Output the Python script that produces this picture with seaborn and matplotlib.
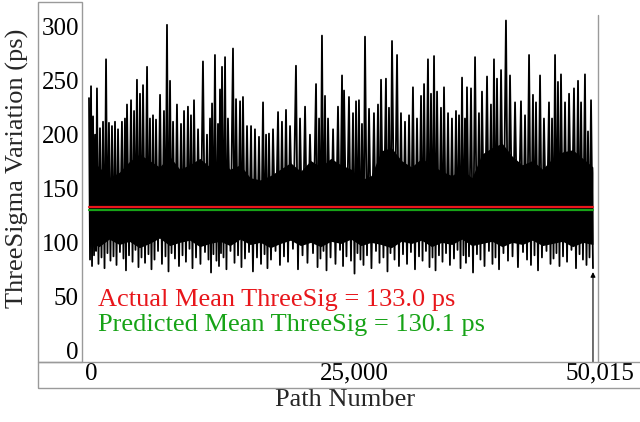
import matplotlib
matplotlib.use("Agg")
import matplotlib.pyplot as plt
import matplotlib.transforms as mtransforms
from matplotlib.patches import Rectangle
from matplotlib.lines import Line2D
import pandas as pd
import seaborn as sns

# ---------------------------------------------------------------------------
# Data (ThreeSigma per path, ps)
# spikes (local maxima) and dips (local minima) of the trace, alternating
# ---------------------------------------------------------------------------
peak_path = [
    0, 200, 400, 600, 790, 1090, 1390, 1690, 1980, 2280,
    2580, 2880, 3270, 3570, 3770, 4170, 4470, 4760, 5060, 5360,
    5760, 6050, 6350, 6650, 7050, 7440, 7740, 8040, 8340, 8730,
    9130, 9430, 9820, 10120, 10420, 10820, 11310, 11710, 12010, 12210,
    12500, 12800, 13000, 13200, 13500, 13790, 14290, 14590, 14990, 15280,
    15680, 16080, 16470, 16870, 17270, 17570, 17860, 18260, 18760, 19150,
    19550, 19950, 20540, 20940, 21440, 21930, 22530, 22830, 23120, 23420,
    23720, 24220, 24710, 25110, 25310, 25800, 26200, 26500, 26790, 27090,
    27390, 27790, 28280, 28680, 28980, 29470, 29770, 30070, 30570, 30960,
    31360, 31760, 32150, 32550, 32950, 33250, 33640, 33940, 34240, 34540,
    34930, 35230, 35630, 36020, 36420, 36720, 37020, 37310, 37510, 37910,
    38310, 38700, 39000, 39500, 39890, 40190, 40490, 40890, 41380, 41780,
    42280, 42870, 43270, 43670, 44060, 44360, 44760, 45150, 45650, 45950,
    46250, 46540, 46840, 47240, 47640, 48130, 48530, 48830, 49220, 49520,
    49820,
]
peak_ps = [
    234, 245, 217, 200, 243, 206, 212, 270, 211, 208,
    212, 205, 212, 215, 228, 232, 222, 251, 238, 246,
    263, 215, 218, 214, 237, 222, 302, 250, 212, 228,
    210, 222, 226, 218, 232, 205, 268, 200, 215, 229,
    274, 210, 242, 263, 272, 215, 280, 233, 231, 235,
    208, 208, 205, 198, 230, 200, 201, 205, 221, 212,
    223, 208, 264, 215, 226, 200, 247, 215, 292, 236,
    215, 205, 226, 255, 241, 235, 220, 231, 232, 210,
    291, 224, 220, 228, 251, 252, 225, 287, 274, 220,
    212, 218, 244, 215, 236, 247, 270, 238, 273, 240,
    225, 244, 220, 215, 222, 218, 253, 215, 244, 243,
    272, 220, 240, 254, 228, 270, 252, 260, 306, 255,
    230, 231, 218, 274, 237, 230, 255, 215, 230, 215,
    274, 249, 256, 230, 238, 243, 250, 230, 256, 203,
    232,
]
dip_path = [
    100, 300, 500, 700, 940, 1240, 1540, 1830, 2130, 2430,
    2730, 3070, 3420, 3670, 3970, 4320, 4610, 4910, 5210, 5560,
    5900, 6200, 6500, 6850, 7240, 7590, 7890, 8190, 8530, 8930,
    9280, 9620, 9970, 10270, 10620, 11060, 11510, 11860, 12110, 12350,
    12650, 12900, 13100, 13350, 13640, 14040, 14440, 14790, 15130, 15480,
    15880, 16270, 16670, 17070, 17420, 17710, 18060, 18510, 18950, 19350,
    19750, 20240, 20740, 21190, 21680, 22230, 22680, 22970, 23270, 23570,
    23970, 24460, 24910, 25210, 25550, 26000, 26350, 26640, 26940, 27240,
    27590, 28030, 28480, 28830, 29220, 29620, 29920, 30320, 30760, 31160,
    31560, 31950, 32350, 32750, 33100, 33440, 33790, 34090, 34390, 34730,
    35080, 35430, 35820, 36220, 36570, 36870, 37160, 37410, 37710, 38110,
    38500, 38850, 39250, 39690, 40040, 40340, 40690, 41130, 41580, 42030,
    42570, 43070, 43470, 43860, 44210, 44560, 44950, 45400, 45800, 46100,
    46390, 46690, 47040, 47440, 47880, 48330, 48680, 49020, 49370, 49670,
    50015,
]
dip_ps = [
    84, 78, 88, 92, 80, 86, 76, 90, 83, 87,
    79, 91, 85, 74, 88, 82, 93, 77, 86, 81,
    89, 75, 84, 92, 80, 87, 73, 90, 85, 78,
    88, 82, 94, 76, 86, 80, 91, 84, 72, 89,
    83, 78, 90, 86, 75, 92, 81, 88, 77, 85,
    91, 73, 86, 80, 89, 76, 84, 92, 79, 87,
    82, 94, 75, 88, 81, 90, 77, 85, 92, 74,
    86, 80, 93, 78, 87, 83, 71, 90, 84, 79,
    88, 76, 92, 81, 86, 73, 90, 84, 78, 89,
    80, 91, 75, 87, 83, 92, 77, 86, 74, 88,
    82, 90, 79, 85, 93, 76, 88, 81, 87, 72,
    89, 84, 78, 92, 80, 86, 75, 90, 83, 87,
    77, 91, 84, 79, 88, 74, 86, 92, 80, 85,
    90, 78, 87, 82, 93, 76, 89, 84, 79, 86,
    76,
]

# dense (solid black) body of the trace, upper and lower edge
core_path = [0, 1000, 2000, 3000, 4000, 5000, 6000, 7000, 8000, 9000,
             10000, 11000, 12000, 13000, 14000, 15000, 16000, 17000, 18000,
             19000, 20000, 21000, 22000, 23000, 24000, 25000, 26000, 27000,
             28000, 29000, 30000, 31000, 32000, 33000, 34000, 35000, 36000,
             37000, 38000, 39000, 40000, 41000, 42000, 43000, 44000, 45000,
             46000, 47000, 48000, 49000, 50000, 50015]
core_hi = [178, 170, 160, 165, 175, 182, 176, 170, 180, 168,
           172, 178, 170, 176, 168, 172, 160, 158, 162, 168,
           174, 166, 176, 170, 178, 172, 168, 158, 162, 185,
           188, 176, 170, 178, 172, 166, 162, 168, 160, 182,
           188, 192, 180, 172, 176, 168, 178, 184, 186, 178,
           170, 165]
core_lo = [100, 96, 103, 98, 101, 95, 99, 104, 97, 100,
           102, 96, 99, 101, 97, 103, 98, 100, 95, 99,
           102, 97, 100, 96, 101, 99, 103, 97, 100, 98,
           95, 101, 99, 102, 96, 100, 98, 103, 97, 99,
           101, 96, 100, 98, 102, 97, 99, 101, 96, 100,
           98, 99]

n_paths = 50015
actual_mean = 133.0
predicted_mean = 130.1

y_ticks = [0, 50, 100, 150, 200, 250, 300]
x_ticks = [0, 25000, 50015]
x_tick_labels = ["0", "25,000", "50,015"]

RED = "#e8161b"
GREEN = "#17a317"
GRAY = "#9a9a9a"

# ---------------------------------------------------------------------------
sns.set_style("white")
plt.rcParams["font.family"] = ["Liberation Serif", "DejaVu Serif"]

W, H = 640, 422
fig = plt.figure(figsize=(W / 100, H / 100), dpi=100)
ax = fig.add_axes([82 / W, (H - 362) / H, (598 - 82) / W, 360 / H])

trace = pd.DataFrame({
    "path": [p for pair in zip(peak_path, dip_path, strict=True) for p in pair],
    "ps": [v for pair in zip(peak_ps, dip_ps, strict=True) for v in pair],
})

ax.fill_between(core_path, core_lo, core_hi, color="black", lw=0)
sns.lineplot(data=trace, x="path", y="ps", color="black", lw=1.3,
             estimator=None, sort=False, ax=ax)

means = pd.DataFrame({
    "path": [0, n_paths, 0, n_paths],
    "ps": [actual_mean, actual_mean, predicted_mean, predicted_mean],
    "kind": ["Actual", "Actual", "Predicted", "Predicted"],
})
sns.lineplot(data=means, x="path", y="ps", hue="kind",
             palette={"Actual": RED, "Predicted": GREEN},
             lw=1.6, legend=False, ax=ax)

ax.text(893, 40.9, f"Actual Mean ThreeSig = {actual_mean:.1f} ps",
        color=RED, fontsize=19, va="baseline", ha="left")
ax.text(893, 17.9, f"Predicted Mean ThreeSig = {predicted_mean:.1f} ps",
        color=GREEN, fontsize=19, va="baseline", ha="left")

# arrow marking the last path
ax.annotate("", xy=(n_paths, 72.4), xytext=(n_paths, -11.1),
            arrowprops=dict(arrowstyle="-|>", color="black", lw=0.8,
                            mutation_scale=7, shrinkA=0, shrinkB=0))

ax.set_xlim(-695, 50513)
ax.set_ylim(-11.1, 323.2)
ax.set_yticks(y_ticks)
ax.set_xticks(x_ticks)
ax.set_xticklabels(x_tick_labels)
ax.tick_params(axis="both", length=0, labelsize=18, colors="black")
ax.tick_params(axis="y", pad=2.2)
ax.tick_params(axis="x", pad=0.5)
for lab, dx in zip(ax.get_xticklabels(), [2.5, 13, 7]):
    lab.set_transform(lab.get_transform() +
                      mtransforms.ScaledTranslation(dx / 100, 0, fig.dpi_scale_trans))

ax.set_xlabel("Path Number", fontsize=19)
ax.set_ylabel("ThreeSigma Variation (ps)", fontsize=19)
ax.xaxis.set_label_coords(0.51, -0.075)
ax.yaxis.set_label_coords(-0.103, 0.539)

for s in ax.spines.values():
    s.set_visible(False)

# boxes around the axis areas
fig.patches.append(Rectangle((38 / W, (H - 362) / H), 44 / W, 360 / H,
                             transform=fig.transFigure, fill=False, ec=GRAY, lw=1))
fig.patches.append(Rectangle((38 / W, (H - 388) / H), (W + 4 - 38) / W, 26 / H,
                             transform=fig.transFigure, fill=False, ec=GRAY, lw=1))
fig.add_artist(Line2D([598 / W, 598 / W], [(H - 362) / H, (H - 15) / H],
                      transform=fig.transFigure, color=GRAY, lw=1))

fig.savefig("out.png", dpi=100)
